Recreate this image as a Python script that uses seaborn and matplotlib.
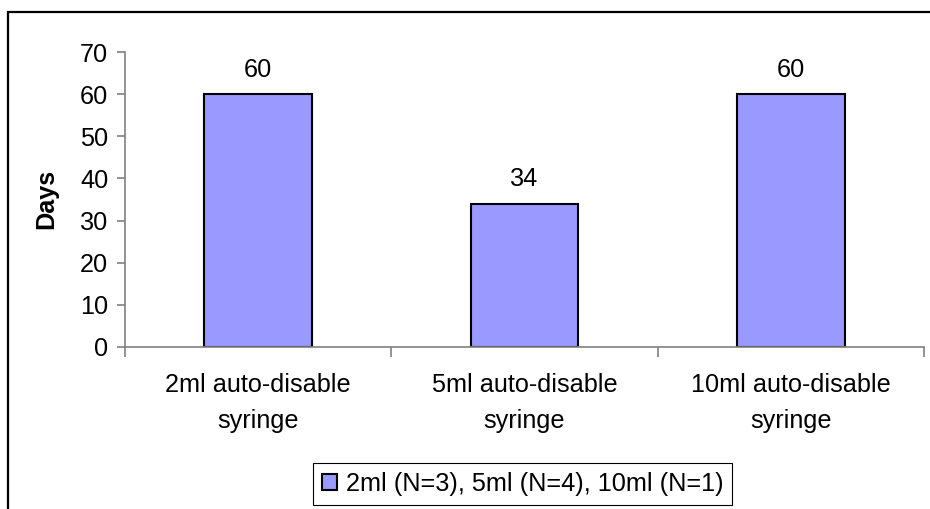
import matplotlib
matplotlib.use("Agg")
import matplotlib.pyplot as plt
from matplotlib.patches import Rectangle
import pandas as pd
import seaborn as sns

# Data
categories = ["2ml auto-disable\nsyringe", "5ml auto-disable\nsyringe", "10ml auto-disable\nsyringe"]
days = [60, 34, 60]
series_label = "2ml (N=3), 5ml (N=4), 10ml (N=1)"
y_ticks = [0, 10, 20, 30, 40, 50, 60, 70]

sns.set_style("white")
plt.rcParams["font.family"] = ["Liberation Sans", "DejaVu Sans"]
plt.rcParams["text.color"] = "black"
plt.rcParams["xtick.color"] = "black"
plt.rcParams["ytick.color"] = "black"

FS = 18.2
W, H = 930, 509
fig = plt.figure(figsize=(W / 100, H / 100), dpi=100)
ax = fig.add_axes([125 / W, 1 - 347 / H, (924 - 125) / W, (347 - 52) / H])

df = pd.DataFrame({"category": categories, "days": days})
sns.barplot(data=df, x="category", y="days", color="#9999FF", saturation=1,
            edgecolor="black", linewidth=1.5, width=0.405, ax=ax)

# value labels above bars
for cont in ax.containers:
    ax.bar_label(cont, labels=[f"{v:g}" for v in days], padding=9, fontsize=FS,
                 color="black")

ax.set_xlim(-0.5, len(categories) - 0.5)
ax.set_ylim(0, 70)
ax.set_yticks(y_ticks)
ax.set_xlabel("")
ax.set_ylabel("")

for side in ["top", "right"]:
    ax.spines[side].set_visible(False)
for side in ["left", "bottom"]:
    ax.spines[side].set_color("#808080")
    ax.spines[side].set_linewidth(1.2)

# y ticks outward
ax.tick_params(axis="y", which="major", direction="out", length=6, width=1.2,
               color="#808080", labelcolor="black", left=True, pad=6, labelsize=FS)
# x labels at category centres, tick marks on category boundaries
ax.tick_params(axis="x", which="major", length=0, pad=19, labelsize=FS, labelcolor="black")
ax.set_xticks([i - 0.5 for i in range(len(categories) + 1)], minor=True)
ax.tick_params(axis="x", which="minor", direction="out", length=7, width=1.2,
               color="#808080", bottom=True)
for lbl in ax.get_xticklabels():
    lbl.set_linespacing(1.6)

fig.text(46 / W, 1 - 199 / H, "Days", rotation=90, ha="center", va="center",
         fontsize=FS, fontweight="bold", color="black")

handle = ax.patches[0]
leg = ax.legend([handle], [series_label], loc="center",
                bbox_to_anchor=(522.5 / W, 1 - 484 / H), bbox_transform=fig.transFigure,
                fontsize=FS, frameon=True, fancybox=False, shadow=False, framealpha=1,
                handlelength=0.6, handleheight=0.6, handletextpad=0.35, borderpad=0.35)
leg.get_frame().set_edgecolor("black")
leg.get_frame().set_linewidth(0.8)
for t in leg.get_texts():
    t.set_color("black")

# outer chart border
fig.add_artist(Rectangle((8 / W, -0.05), 1.0, 1 - 12 / H + 0.05, transform=fig.transFigure,
                         fill=False, edgecolor="black", linewidth=1.6, clip_on=False))

fig.savefig("out.png", dpi=100)
